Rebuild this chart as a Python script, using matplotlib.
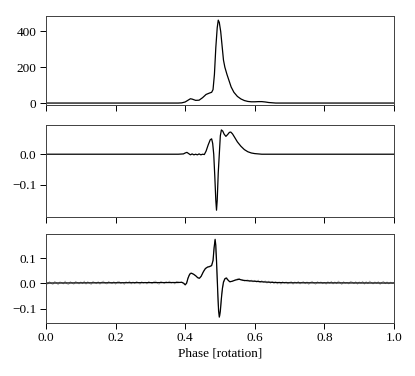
import numpy as np
import matplotlib.pyplot as plt

plt.rcParams['font.family'] = ['Liberation Serif', 'DejaVu Serif']
plt.rcParams['font.size'] = 9.5

# panel 1: total intensity profile
ph_i = [0.0, 0.38, 0.39, 0.40, 0.41, 0.415, 0.42, 0.43, 0.44, 0.45, 0.46, 0.47, 0.476,
        0.48, 0.484, 0.488, 0.492, 0.495, 0.498, 0.502, 0.506, 0.51, 0.514, 0.52, 0.526,
        0.532, 0.54, 0.55, 0.56, 0.57, 0.58, 0.59, 0.60, 0.61, 0.62, 0.63, 0.64, 0.66, 1.0]
val_i = [0, 0, 1, 6, 18, 24, 22, 15, 16, 30, 48, 56, 60,
         75, 160, 310, 420, 463, 450, 400, 320, 240, 200, 160, 125,
         90, 60, 37, 23, 14, 9, 7, 7, 8, 8, 6, 3, 0, 0]

# panel 2: second profile
ph_q = [0.0, 0.38, 0.395, 0.40, 0.405, 0.41, 0.415, 0.42, 0.425, 0.43, 0.435, 0.44, 0.445,
        0.45, 0.455, 0.46, 0.466, 0.472, 0.476, 0.479, 0.482, 0.485, 0.488, 0.490, 0.492,
        0.495, 0.498, 0.501, 0.504, 0.508, 0.512, 0.517, 0.522, 0.527, 0.531, 0.536, 0.542,
        0.55, 0.56, 0.57, 0.58, 0.59, 0.60, 0.62, 1.0]
val_q = [0.0, 0.0, 0.001, 0.004, 0.006, 0.002, -0.002, 0.001, -0.002, 0.0, -0.002, 0.001, -0.002,
         0.0, -0.001, 0.01, 0.03, 0.047, 0.05, 0.035, 0.0, -0.07, -0.15, -0.182, -0.15,
         -0.06, 0.0, 0.06, 0.079, 0.075, 0.065, 0.058, 0.064, 0.071, 0.072, 0.066, 0.055,
         0.04, 0.026, 0.015, 0.008, 0.004, 0.002, 0.0, 0.0]

# panel 3: model (black) and observed (grey)
ph_m = [0.0, 0.38, 0.39, 0.396, 0.40, 0.404, 0.408, 0.413, 0.418, 0.424, 0.43, 0.436, 0.441,
        0.446, 0.452, 0.458, 0.464, 0.47, 0.476, 0.48, 0.483, 0.486, 0.488, 0.490, 0.492,
        0.494, 0.496, 0.498, 0.501, 0.504, 0.507, 0.51, 0.514, 0.518, 0.522, 0.528, 0.535,
        0.545, 0.555, 0.565, 0.58, 0.60, 0.63, 0.66, 0.70, 1.0]
val_m = [0.001, 0.003, 0.004, 0.0, -0.006, 0.0, 0.02, 0.036, 0.04, 0.036, 0.03, 0.022, 0.02,
         0.028, 0.045, 0.058, 0.064, 0.066, 0.07, 0.09, 0.14, 0.174, 0.15, 0.09, 0.02,
         -0.05, -0.11, -0.134, -0.11, -0.06, -0.02, 0.005, 0.018, 0.021, 0.014, 0.006, 0.008,
         0.013, 0.016, 0.012, 0.01, 0.008, 0.005, 0.003, 0.002, 0.001]

ph_obs = np.linspace(0, 1, 201)
val_obs = [
    0.005, -0.004, 0.007, -0.001, -0.005, 0.008, 0.002, -0.006, 0.006, 0.003,
    -0.003, 0.009, -0.002, -0.005, 0.007, 0.001, -0.004, 0.008, 0.003, -0.003,
    0.006, -0.002, 0.009, -0.004, 0.007, 0.000, -0.005, 0.008, 0.003, -0.002,
    0.007, -0.004, 0.005, 0.009, 0.000, -0.003, 0.008, 0.002, -0.002, 0.007,
    -0.004, 0.006, 0.008, -0.002, 0.004, -0.005, 0.007, 0.001, 0.009, -0.003,
    0.006, -0.002, 0.008, 0.003, -0.004, 0.007, 0.000, 0.005, -0.003, 0.008,
    0.003, -0.002, 0.007, 0.009, 0.000, -0.004, 0.008, 0.004, -0.002, 0.007,
    0.003, 0.009, 0.000, 0.005, -0.003, 0.008, 0.006, 0.002, 0.005, -0.002,
    -0.007, 0.005, 0.030, 0.042, 0.038, 0.034, 0.030, 0.024, 0.018, 0.025,
    0.040, 0.055, 0.062, 0.065, 0.068, 0.070, 0.090, 0.170, 0.080, -0.090,
    -0.130, -0.040, 0.000, 0.017, 0.022, 0.010, 0.005, 0.008, 0.012, 0.014,
    0.018, 0.020, 0.013, 0.015, 0.008, 0.012, 0.014, 0.006, 0.013, 0.005,
    0.012, 0.004, 0.013, 0.002, 0.011, 0.003, 0.010, 0.000, 0.009, -0.001,
    0.008, -0.002, 0.007, -0.003, 0.006, -0.004, 0.007, 0.000, 0.006, -0.003,
    0.004, 0.007, -0.004, 0.006, 0.000, 0.008, -0.003, 0.004, 0.007, -0.002,
    0.006, -0.005, 0.004, 0.008, 0.000, -0.004, 0.007, 0.001, 0.006, -0.002,
    0.004, -0.004, 0.007, 0.000, 0.008, -0.003, 0.006, -0.002, 0.009, 0.003,
    -0.005, 0.007, 0.000, 0.004, -0.003, 0.008, 0.005, -0.002, 0.007, -0.004,
    0.006, 0.000, 0.008, -0.004, 0.007, -0.002, 0.009, 0.003, -0.003, 0.006,
    0.000, 0.007, -0.005, 0.004, 0.008, -0.002, 0.006, -0.003, 0.005, 0.000,
    0.004]

fig = plt.figure(figsize=(4.15, 3.76), dpi=100)
ax1 = fig.add_axes([0.1108, 0.7207, 0.8386, 0.2367])
ax2 = fig.add_axes([0.1108, 0.4229, 0.8386, 0.2447])
ax3 = fig.add_axes([0.1108, 0.1418, 0.8386, 0.2351])

ax1.plot(ph_i, val_i, color='k', lw=0.9)
ax1.set_ylim(-11, 486)
ax1.set_yticks([0, 200, 400])

ax2.plot(ph_q, val_q, color='k', lw=0.9)
ax2.set_ylim(-0.204, 0.095)
ax2.set_yticks([-0.1, 0.0])

ax3.plot(ph_obs, val_obs, color='0.65', lw=0.5)
ax3.plot(ph_m, val_m, color='k', lw=0.9)
ax3.set_ylim(-0.156, 0.194)
ax3.set_yticks([-0.1, 0.0, 0.1])
ax3.set_xlabel("Phase [rotation]", labelpad=2)

for ax in (ax1, ax2, ax3):
    ax.set_xlim(0, 1)
    ax.set_xticks(np.arange(0, 1.01, 0.2))
    ax.tick_params(direction='out', length=4, width=0.7, pad=3)
    for s in ax.spines.values():
        s.set_linewidth(0.7)
        s.set_color('0.25')
for ax in (ax1, ax2):
    ax.tick_params(labelbottom=False)

fig.savefig("out.png", dpi=100)
